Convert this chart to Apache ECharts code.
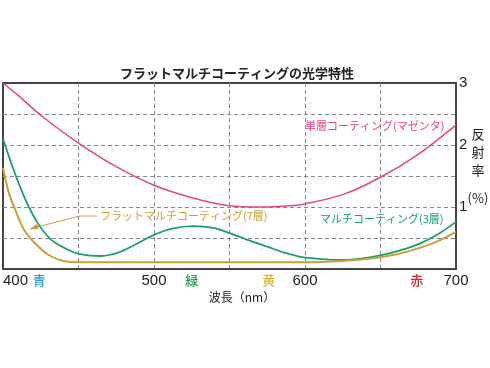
<!DOCTYPE html>
<html><head><meta charset="utf-8">
<script src="https://cdn.jsdelivr.net/npm/echarts@6/dist/echarts.min.js"></script>
<style>html,body{margin:0;padding:0;background:#fff}#c{width:490px;height:368px}</style>
</head><body><div id="c"></div>
<script>
const titleText = 'フラットマルチコーティングの光学特性';
const xTicks = [400, 500, 600, 700];
const yTicks = [1, 2, 3];
const singleWl = [400, 410, 425, 450, 475, 500, 525, 550, 570, 590, 600, 625, 650, 675, 700];
const singleVal = [3.0, 2.8, 2.48, 2.03, 1.65, 1.35, 1.15, 1.02, 1.0, 1.02, 1.05, 1.2, 1.48, 1.85, 2.32];
const multiWl = [400, 407, 415, 423, 432, 443, 451, 465, 477, 488, 500, 512, 526, 540, 550, 562, 575, 587, 598, 612, 625, 638, 650, 663, 676, 688, 700];
const multiVal = [2.1, 1.6, 1.11, 0.74, 0.47, 0.31, 0.24, 0.21, 0.27, 0.4, 0.55, 0.65, 0.69, 0.66, 0.58, 0.47, 0.36, 0.26, 0.19, 0.16, 0.145, 0.17, 0.22, 0.3, 0.41, 0.56, 0.76];
const flatWl = [400, 404, 409, 414, 421, 430, 440, 452, 500, 550, 600, 625, 640, 650, 663, 676, 688, 700];
const flatVal = [1.63, 1.22, 0.9, 0.63, 0.42, 0.23, 0.13, 0.11, 0.11, 0.11, 0.11, 0.13, 0.16, 0.19, 0.25, 0.34, 0.45, 0.6];
const colorBands = ['青', '緑', '黄', '赤'];
const bandWl = [424, 525, 576, 674];
const bandColors = ['#2a9ee0', '#1f9a4e', '#e3b33a', '#d9262f'];
const labelSingle = '単層コーティング(マゼンタ)';
const labelMulti = 'マルチコーティング(3層)';
const labelFlat = 'フラットマルチコーティング(7層)';

const FONT = '"Noto Sans CJK JP", "Noto Sans", sans-serif';
const NUMFONT = '"Liberation Sans", Arial, sans-serif';
const cMag = '#e2468a', cGreen = '#16a06a', cGold = '#c9a03a';
const zip = (a, b) => a.map((v, i) => [v, b[i]]);

const chart = echarts.init(document.getElementById('c'));
const gridL = 2, gridR = 34, gridT = 83, gridB = 99;
const option = {
  animation: false,
  textStyle: { fontFamily: FONT },
  title: { text: titleText, left: 232, top: 62, textAlign: 'center',
    textStyle: { fontFamily: FONT, fontSize: 13, fontWeight: 'bold', color: '#222' } },
  grid: { left: gridL, right: gridR, top: gridT, bottom: gridB, show: true, borderColor: '#444', borderWidth: 2 },
  xAxis: { type: 'value', min: 400, max: 700, interval: 50,
    axisLine: { show: true, lineStyle: { color: '#444', width: 2 } },
    axisTick: { show: false },
    axisLabel: { color: '#222', fontSize: 15, margin: 4, fontFamily: NUMFONT, alignMinLabel: 'left',
      formatter: v => xTicks.includes(v) ? String(v) : '' },
    splitLine: { show: true, showMinLine: false, showMaxLine: false, lineStyle: { color: '#888', type: [4, 3], width: 1 } } },
  yAxis: { type: 'value', position: 'right', min: 0, max: 3, interval: 0.5,
    axisLine: { show: true, lineStyle: { color: '#444', width: 2 } },
    axisTick: { show: false },
    axisLabel: { color: '#222', fontSize: 15, margin: 3, fontFamily: NUMFONT,
      formatter: v => yTicks.includes(v) ? String(v) : '' },
    splitLine: { show: true, showMinLine: false, showMaxLine: false, lineStyle: { color: '#888', type: [4, 3], width: 1 } } },
  series: [
    { type: 'line', data: zip(singleWl, singleVal), smooth: 0.3, showSymbol: false, lineStyle: { color: cMag, width: 1.5 } },
    { type: 'line', data: zip(multiWl, multiVal), smooth: 0.3, showSymbol: false, lineStyle: { color: cGreen, width: 1.8 } },
    { type: 'line', data: zip(flatWl, flatVal), smooth: 0.3, showSymbol: false, lineStyle: { color: cGold, width: 2 } }
  ],
  graphic: []
};
chart.setOption(option);

const g = [];
colorBands.forEach((t, i) => {
  const p = chart.convertToPixel({ gridIndex: 0 }, [bandWl[i], 0]);
  g.push({ type: 'text', x: p[0], y: 280, style: { text: t, fill: bandColors[i], font: '500 13px ' + FONT, textAlign: 'center', textVerticalAlign: 'middle' } });
});
g.push({ type: 'text', x: 242, y: 297, style: { text: '波長（nm）', fill: '#222', font: '12px ' + FONT, textAlign: 'center', textVerticalAlign: 'middle' } });
['反', '射', '率', '(%)'].forEach((t, i) => {
  g.push({ type: 'text', x: 478, y: [134, 152, 170, 198][i], style: { text: t, fill: '#222', font: '13px ' + FONT, textAlign: 'center', textVerticalAlign: 'middle' } });
});
g.push({ type: 'text', x: 305, y: 126, style: { text: labelSingle, fill: cMag, font: '11px ' + FONT, textAlign: 'left', textVerticalAlign: 'middle' } });
g.push({ type: 'text', x: 320, y: 219, style: { text: labelMulti, fill: cGreen, font: '11px ' + FONT, textAlign: 'left', textVerticalAlign: 'middle' } });
g.push({ type: 'text', x: 100, y: 216, style: { text: labelFlat, fill: cGold, font: '11px ' + FONT, textAlign: 'left', textVerticalAlign: 'middle' } });
g.push({ type: 'polyline', shape: { points: [[97, 216], [80, 216], [33, 228]] }, style: { stroke: cGold, lineWidth: 1, fill: null } });
g.push({ type: 'polygon', shape: { points: [[29, 229.5], [37, 224], [38.5, 229]] }, style: { fill: cGold } });
chart.setOption({ graphic: g });
</script></body></html>
